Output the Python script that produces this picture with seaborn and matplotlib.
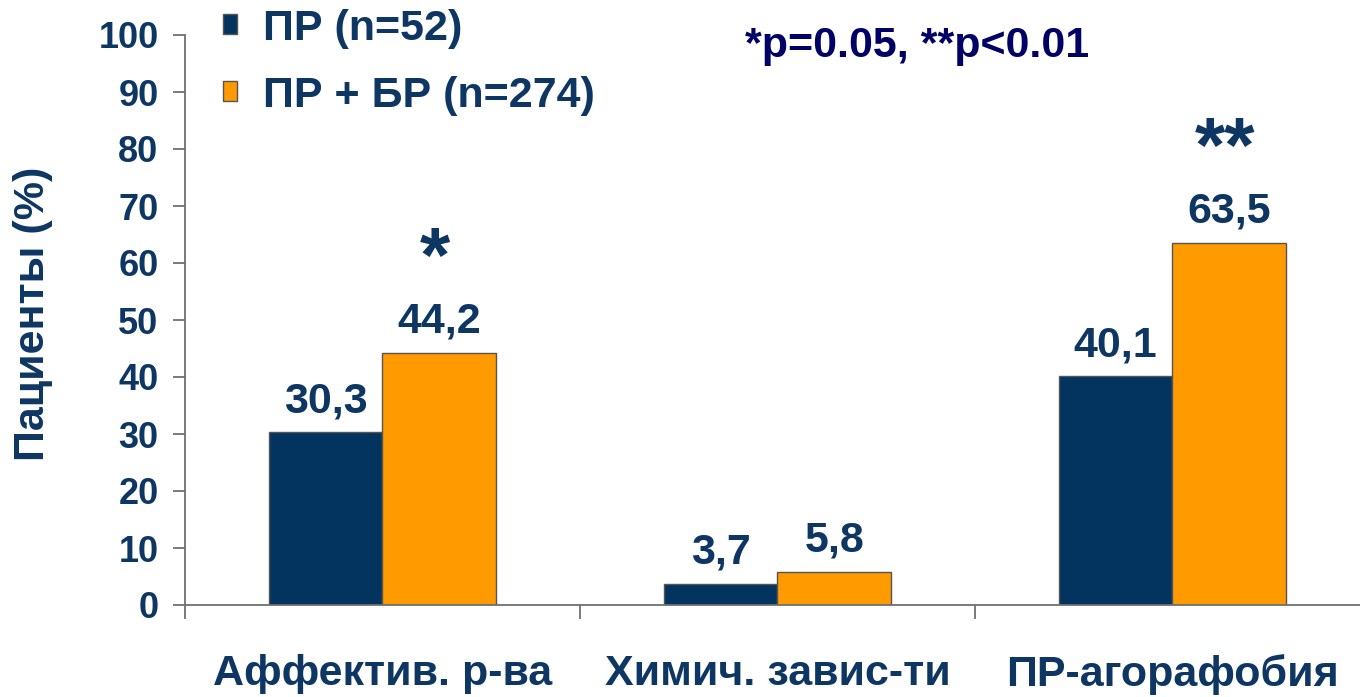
import pandas as pd
import matplotlib.pyplot as plt
import seaborn as sns

# Data
categories = ['Аффектив. р-ва', 'Химич. завис-ти', 'ПР-агорафобия']
groups = ['ПР (n=52)', 'ПР + БР (n=274)']
pr_values = [30.3, 3.7, 40.1]
pr_br_values = [44.2, 5.8, 63.5]
value_labels_pr = ['30,3', '3,7', '40,1']
value_labels_pr_br = ['44,2', '5,8', '63,5']
stars = ['*', '', '**']

df = pd.DataFrame({
    'category': categories * 2,
    'group': [groups[0]] * 3 + [groups[1]] * 3,
    'value': pr_values + pr_br_values,
})

sns.set_style('white')
plt.rcParams['font.family'] = ['Liberation Sans', 'DejaVu Sans']
plt.rcParams['font.weight'] = 'bold'

navy = '#03335F'
orange = '#FF9A00'
txt = '#0D3663'

fig = plt.figure(figsize=(13.6, 6.97), dpi=100)
ax = fig.add_axes([185 / 1360, 92 / 697, 1 - 185 / 1360, 570 / 697])

sns.barplot(data=df, x='category', y='value', hue='group', palette=[navy, orange],
            width=0.575, edgecolor='#555555', linewidth=1, ax=ax, saturation=1)

ax.set_xlim(-0.5, 2.475)
ax.set_ylim(0, 100)
ax.set_yticks(range(0, 101, 10))
ax.set_xlabel('')
ax.set_ylabel('Пациенты (%)', fontsize=31, fontweight='bold', color=txt)
ax.yaxis.set_label_coords(-0.112, 0.51)

for s in ['top', 'right']:
    ax.spines[s].set_visible(False)
for s in ['left', 'bottom']:
    ax.spines[s].set_color('#707070')
    ax.spines[s].set_linewidth(1.3)

ax.tick_params(axis='y', length=9, width=1.3, color='#707070', labelsize=26,
               labelcolor=txt, pad=10, left=True)
ax.tick_params(axis='x', which='major', length=0, labelsize=31, labelcolor=txt, pad=35)
ax.set_xticks([-0.5, 0.5, 1.5], minor=True)
ax.tick_params(axis='x', which='minor', length=10, width=1.3, color='#707070', bottom=True)
for lab in ax.get_xticklabels() + ax.get_yticklabels():
    lab.set_fontweight('bold')

off = 0.575 / 4
for i in range(3):
    ax.annotate(value_labels_pr[i], (i - off, pr_values[i]), xytext=(0, 8),
                textcoords='offset points', ha='center', va='bottom',
                fontsize=31, fontweight='bold', color=txt)
    ax.annotate(value_labels_pr_br[i], (i + off, pr_br_values[i]), xytext=(0, 8),
                textcoords='offset points', ha='center', va='bottom',
                fontsize=31, fontweight='bold', color=txt)
    if stars[i]:
        ax.annotate(stars[i], (i + off, pr_br_values[i]), xytext=(-3, 40),
                    textcoords='offset points', ha='center', va='bottom',
                    fontsize=56, fontweight='bold', color=txt)

handles, labels = ax.get_legend_handles_labels()
ax.legend(handles, labels, loc='upper left', bbox_to_anchor=(206 / 1360, 1.012),
          bbox_transform=fig.transFigure, frameon=False, fontsize=31,
          handlelength=0.33, handleheight=0.33, handletextpad=0.6,
          labelspacing=0.62, borderaxespad=0.0, labelcolor=txt)

fig.text(745 / 1360, 1 - 46 / 697, '*p=0.05, **p<0.01', fontsize=31,
         fontweight='bold', color='#000066', ha='left', va='center')

fig.savefig('out.png', dpi=100)
